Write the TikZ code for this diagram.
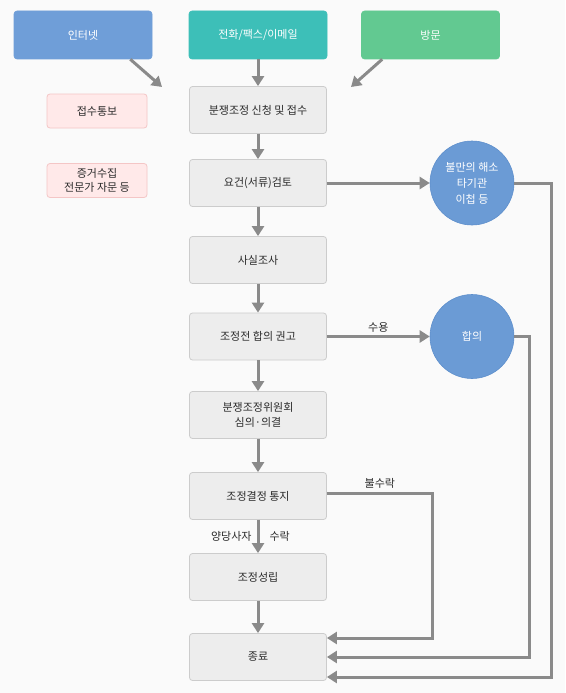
\documentclass[tikz,border=0pt]{standalone}
\usepackage{fontspec}
\setmainfont{Noto Sans CJK KR}
\usetikzlibrary{arrows.meta,positioning,calc}
\definecolor{bgpaper}{HTML}{FAFAFA}
\definecolor{ink}{HTML}{2B2B2B}
\definecolor{boxfill}{HTML}{EDEDED}
\definecolor{boxline}{HTML}{CCCCCC}
\definecolor{pinkfill}{HTML}{FFE9E9}
\definecolor{pinkline}{HTML}{F4C6C6}
\definecolor{netblue}{HTML}{6F9ED8}
\definecolor{telteal}{HTML}{3DBFB8}
\definecolor{visitgreen}{HTML}{62C991}
\definecolor{circblue}{HTML}{6B9BD5}
\definecolor{circline}{HTML}{5E8FCC}
\definecolor{arrgray}{HTML}{8A8A8A}
\tikzset{
  srcbox/.style={draw=#1,fill=#1,line width=0.6pt,rounded corners=3pt,
                 minimum width=138pt,minimum height=48pt,inner sep=0pt,
                 text=white,font=\fontsize{11}{13}\selectfont},
  stepbox/.style={draw=boxline,fill=boxfill,line width=0.8pt,rounded corners=3pt,
                  minimum width=137pt,minimum height=47pt,inner sep=0pt,
                  align=center,text=ink,font=\fontsize{11}{15}\selectfont},
  notebox/.style={draw=pinkline,fill=pinkfill,line width=0.8pt,rounded corners=3pt,
                  minimum width=100pt,minimum height=34pt,inner sep=0pt,
                  align=center,text=ink,font=\fontsize{11}{14}\selectfont},
  endcircle/.style={circle,draw=circline,fill=circblue,line width=0.6pt,
                    minimum size=84pt,inner sep=0pt,align=center,
                    text=white,font=\fontsize{11}{16}\selectfont},
  grayarr/.style={-{Triangle[length=10pt,width=12pt]},line width=3pt,
                  draw=arrgray},
  flowlabel/.style={text=ink,font=\fontsize{11}{13}\selectfont,inner sep=2pt}
}
\begin{document}
\begin{tikzpicture}[x=1pt,y=-1pt]
    \path[use as bounding box,fill=bgpaper] (0,0) rectangle (565,693);

    % ways of applying
    \node[srcbox=netblue] (inet) at (83,35) {인터넷};
    \node[srcbox=telteal] (tel) at (258,35) {전화/팩스/이메일};
    \node[srcbox=visitgreen] (visit) at (430.5,35) {방문};

    % main column
    \node[stepbox] (apply) at (258,110) {분쟁조정 신청 및 접수};
    \node[stepbox] (review) at (258,183) {요건(서류)검토};
    \node[stepbox] (survey) at (258,260) {사실조사};
    \node[stepbox] (recommend) at (258,336.5) {조정전 합의 권고};
    \node[stepbox] (committee) at (258,415) {분쟁조정위원회\\심의·의결};
    \node[stepbox] (notify) at (258,496) {조정결정 통지};
    \node[stepbox] (settle) at (258,577) {조정성립};
    \node[stepbox] (end) at (258,657) {종료};

    \node[notebox] (notice) at (97,111) {접수통보};
    \node[notebox] (evidence) at (97,180.5) {증거수집\\전문가 자문 등};

    \node[endcircle] (complaint) at (472,183) {불만의 해소\\타기관\\이첩 등};
    \node[endcircle] (agree) at (472,336.5) {합의};

    \coordinate (inetend) at (162,87);
    \coordinate (visitend) at (351,87);

    \draw[grayarr] ([xshift=-22pt]inet.south east) -- (inetend);
    \draw[grayarr] (tel) -- (apply);
    \draw[grayarr] ([xshift=21pt]visit.south west) -- (visitend);

    \draw[grayarr] (apply) -- (review);
    \draw[grayarr] (review) -- (survey);
    \draw[grayarr] (survey) -- (recommend);
    \draw[grayarr] (recommend) -- (committee);
    \draw[grayarr] (committee) -- (notify);
    \draw[grayarr] (notify) -- node[flowlabel,left,xshift=-3pt]{양당사자}
      node[flowlabel,right,xshift=8pt]{수락} (settle);
    \draw[grayarr] (settle) -- (end);

    \draw[grayarr] (review) -- (complaint);
    \draw[grayarr] (recommend) -- node[flowlabel,above,yshift=1pt]{수용} (agree);

    \draw[grayarr] ([yshift=3pt]notify.east) -- node[flowlabel,above,yshift=1pt]{불수락}
      ++(106,0) |- ([yshift=19pt]end.east);
    \draw[grayarr] (agree.east) -- ++(15,0) |- (end.east);
    \draw[grayarr] (complaint.east) -- ++(37,0) |- ([yshift=-20pt]end.east);
  \end{tikzpicture}
\end{document}
